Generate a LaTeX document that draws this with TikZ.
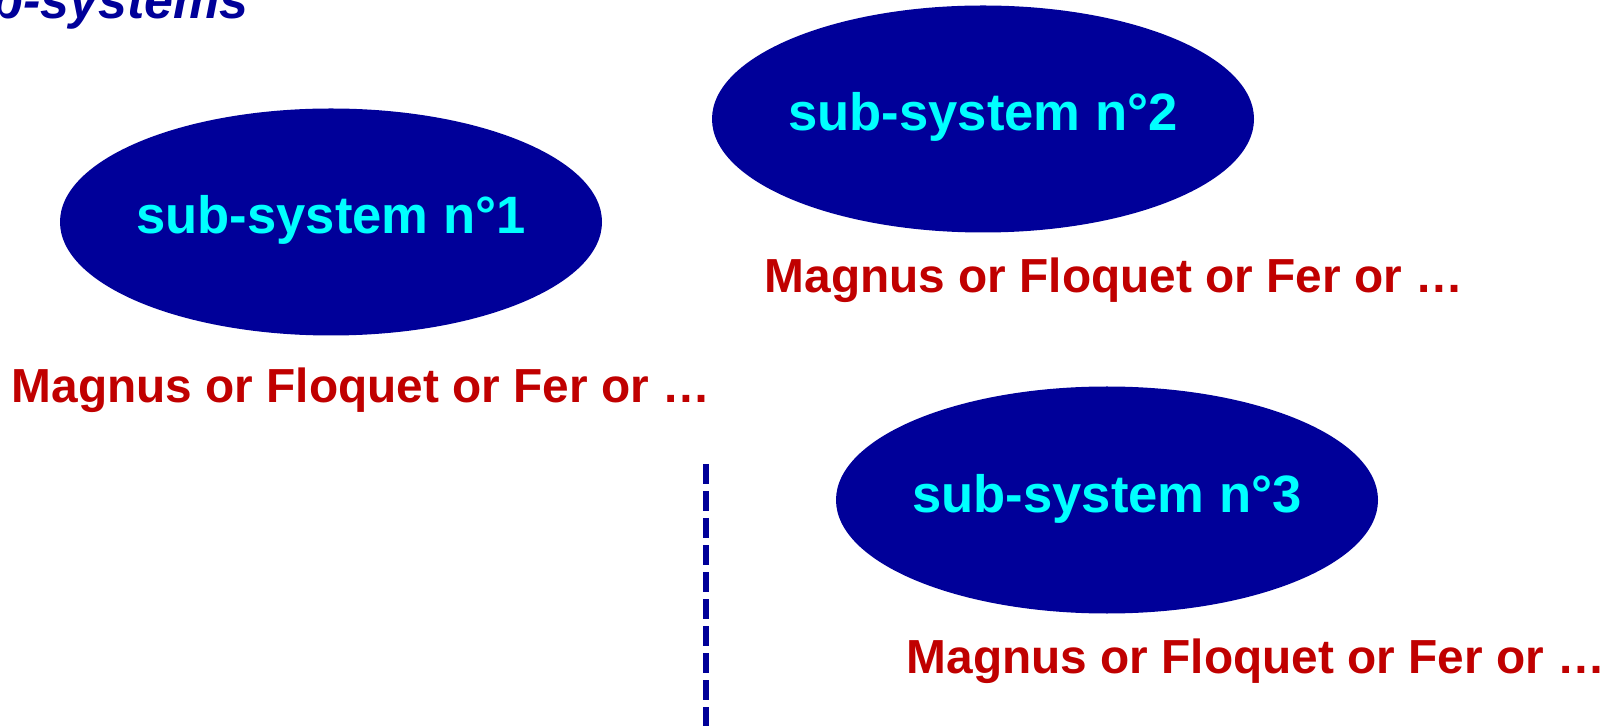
\documentclass[tikz,border=0pt]{standalone}
\usepackage{fontspec}
\setmainfont{Liberation Sans}
\usepackage{xcolor}
\usetikzlibrary{shapes.geometric,positioning}
\definecolor{subblue}{RGB}{0,0,153}
\definecolor{subcyan}{RGB}{0,255,255}
\definecolor{methodred}{RGB}{192,0,0}

\begin{document}
\begin{tikzpicture}[x=0.5pt, y=-0.5pt,
    subsys/.style={ellipse, fill=subblue, minimum width=271pt, minimum height=113.5pt, inner sep=0pt},
    subname/.style={anchor=base, inner sep=0pt, text=subcyan, font=\fontsize{26.3}{30}\selectfont\bfseries},
    method/.style={anchor=base, inner sep=0pt, text=methodred, font=\fontsize{23.9}{28}\selectfont\bfseries}]
    \useasboundingbox (0,0) rectangle (1621,726);

    % Title
    \node[anchor=base east, inner sep=0pt, text=subblue, font=\fontsize{26}{30}\selectfont\bfseries\itshape] (title) at (249,19) {b-systems};

    % Sub-systems and their methods
    \foreach \n/\x/\y/\mx/\my in {1/331/222/361/403, 2/983/119/1114/293, 3/1107/500/1256/673} {
        \node[subsys] (s\n) at (\x,\y) {};
        \node[subname] (t\n) at ([yshift=-6pt]s\n.center) {sub-system n°\n};
        \node[method] (m\n) at (\mx,\my) {Magnus or Floquet or Fer or …};
    }

    % Dashed cut
    \coordinate (cut top) at (706,464);
    \coordinate (cut bottom) at (706,726);
    \draw[subblue, line width=3pt, dash pattern=on 10pt off 3.5pt] (cut top) -- (cut bottom);
\end{tikzpicture}
\end{document}
